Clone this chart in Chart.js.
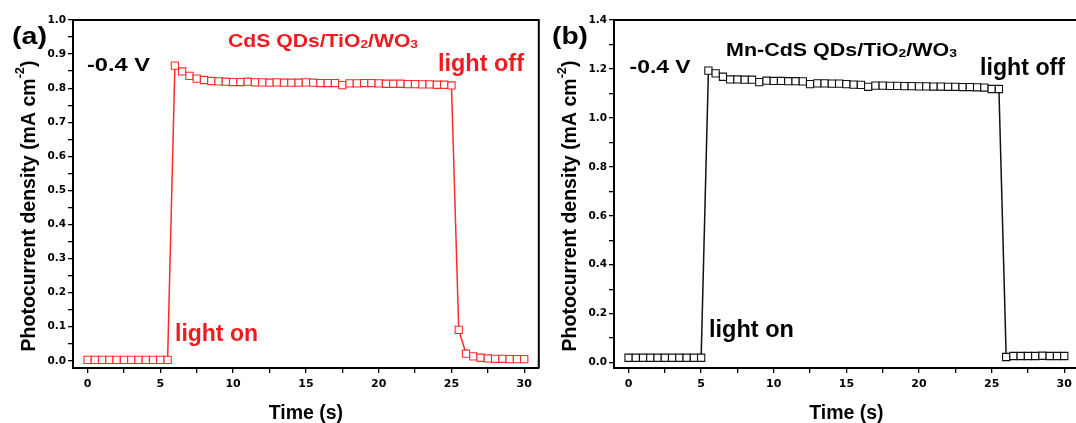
<!DOCTYPE html>
<html>
<head>
<meta charset="utf-8">
<script src="https://cdn.jsdelivr.net/npm/chart.js@4.4.1/dist/chart.umd.min.js"></script>
<style>
  html, body { margin: 0; padding: 0; background: #fff; overflow: hidden; width: 1076px; height: 423px; }
  canvas { position: absolute; top: 0; }
  #chartA { left: 0; }
  #chartB { left: 540px; }
</style>
</head>
<body>
<canvas id="chartA" width="545" height="423"></canvas>
<canvas id="chartB" width="545" height="423"></canvas>
<script>
// Sampling times (s), one point every 0.5 s
const timeS = [
  0, 0.5, 1, 1.5, 2, 2.5, 3, 3.5, 4, 4.5, 5, 5.5, 6, 6.5, 7, 7.5, 8, 8.5, 9, 9.5,
  10, 10.5, 11, 11.5, 12, 12.5, 13, 13.5, 14, 14.5, 15, 15.5, 16, 16.5, 17, 17.5, 18, 18.5, 19, 19.5,
  20, 20.5, 21, 21.5, 22, 22.5, 23, 23.5, 24, 24.5, 25, 25.5, 26, 26.5, 27, 27.5, 28, 28.5, 29, 29.5, 30,
];

// (a) CdS QDs/TiO2/WO3, mA cm-2
const currentA = [
  0.003, 0.003, 0.003, 0.003, 0.003, 0.003, 0.003, 0.003, 0.003, 0.003, 0.003, 0.003,
  0.866, 0.849, 0.836, 0.828, 0.824, 0.821, 0.820, 0.819, 0.818, 0.818,
  0.819, 0.817, 0.817, 0.816, 0.817, 0.816, 0.816, 0.816, 0.817, 0.816,
  0.815, 0.815, 0.815, 0.809, 0.814, 0.814, 0.815, 0.815, 0.814, 0.813,
  0.813, 0.813, 0.812, 0.812, 0.811, 0.811, 0.810, 0.810, 0.808,
  0.091,
  0.021, 0.013, 0.009, 0.007, 0.006, 0.006, 0.005, 0.005, 0.005,
];

// (b) Mn-CdS QDs/TiO2/WO3, mA cm-2
const currentB = [
  0.020, 0.020, 0.020, 0.020, 0.020, 0.020, 0.020, 0.020, 0.020, 0.020, 0.020,
  1.193, 1.182, 1.168, 1.157, 1.157, 1.156, 1.156, 1.146, 1.152, 1.151,
  1.151, 1.150, 1.150, 1.149, 1.138, 1.141, 1.141, 1.140, 1.140, 1.138,
  1.136, 1.135, 1.127, 1.132, 1.132, 1.131, 1.131, 1.130, 1.130, 1.129,
  1.129, 1.128, 1.128, 1.127, 1.127, 1.126, 1.126, 1.125, 1.124, 1.118,
  1.118,
  0.023, 0.027, 0.027, 0.027, 0.027, 0.028, 0.027, 0.027, 0.027,
];

// tick labels
const xTicks  = [0, 5, 10, 15, 20, 25, 30];
const yTicksA = [0, 0.1, 0.2, 0.3, 0.4, 0.5, 0.6, 0.7, 0.8, 0.9, 1.0];
const yTicksB = [0, 0.2, 0.4, 0.6, 0.8, 1.0, 1.2, 1.4];

const RED = '#f01a1f';
const RED_DATA = '#ff2a2a';
const BLACK = '#111111';
const TXT_FONT = '"Liberation Sans", Arial, sans-serif';
const TICK_FONT = '"DejaVu Sans", sans-serif';

// major ticks plus one minor tick between each pair
function withMinors(majors) {
  const out = [];
  majors.forEach((v, i) => {
    out.push(v);
    if (i < majors.length - 1) out.push(Math.round((v + majors[i + 1]) / 2 * 1000) / 1000);
  });
  return out;
}
const isMajor = (majors, v) => majors.some(m => Math.abs(m - v) < 1e-9);

// draw a run of text parts ([text, 'sub'|'sup'|'']) at baseline, optionally stretched to width w
function runWidth(ctx, n) {
  let w = 0;
  n.parts.forEach(([t, kind]) => {
    ctx.font = `bold ${kind ? n.size * 0.65 : n.size}px ${TXT_FONT}`;
    w += ctx.measureText(t).width;
  });
  return w;
}
function drawRun(ctx, n, x0, y0) {
  let x = x0;
  n.parts.forEach(([t, kind]) => {
    ctx.font = `bold ${kind ? n.size * 0.65 : n.size}px ${TXT_FONT}`;
    const dy = kind === 'sub' ? n.size * 0.06 : kind === 'sup' ? -n.size * 0.52 : 0;
    ctx.fillText(t, x, y0 + dy);
    x += ctx.measureText(t).width;
  });
}

function decorPlugin(notes, yTitle) {
  return {
    id: 'decor',
    afterDraw(chart) {
      const { ctx, chartArea: a } = chart;
      ctx.save();
      // box frame (top + right)
      ctx.strokeStyle = '#000';
      ctx.lineWidth = 2;
      ctx.beginPath();
      ctx.moveTo(a.left, a.top);
      ctx.lineTo(a.right, a.top);
      ctx.lineTo(a.right, a.bottom);
      ctx.stroke();

      ctx.textAlign = 'left';
      ctx.textBaseline = 'alphabetic';

      // rotated y axis title with superscript
      ctx.fillStyle = '#000';
      const tw = runWidth(ctx, yTitle);
      ctx.save();
      ctx.translate(yTitle.x, yTitle.y);
      ctx.rotate(-Math.PI / 2);
      drawRun(ctx, yTitle, -tw / 2, yTitle.size * 0.358);
      ctx.restore();

      // labels
      notes.forEach(n => {
        const nat = runWidth(ctx, n);
        const sx = n.w ? n.w / nat : 1;
        ctx.save();
        ctx.fillStyle = n.color;
        ctx.translate(n.x, n.y);
        ctx.scale(sx, 1);
        drawRun(ctx, n, 0, 0);
        ctx.restore();
      });
      ctx.restore();
    },
  };
}

function makePanel(canvasId, values, color, yMajors, yMin, yMax, yWidth, padRight, notes, yTitle) {
  const ctx = document.getElementById(canvasId).getContext('2d');
  const yAll = withMinors(yMajors);
  const xAll = withMinors(xTicks);
  return new Chart(ctx, {
    type: 'scatter',
    data: {
      datasets: [{
        data: timeS.map((t, i) => ({ x: t, y: values[i] })),
        showLine: true,
        borderColor: color,
        borderWidth: 1.5,
        pointStyle: 'rect',
        pointRadius: 5.1,
        pointBorderWidth: 1.1,
        pointBorderColor: color,
        pointBackgroundColor: '#fff',
        tension: 0,
      }],
    },
    options: {
      responsive: false,
      animation: false,
      events: [],
      layout: { padding: { left: 0, right: padRight, top: 20, bottom: 0 } },
      plugins: { legend: { display: false }, tooltip: { enabled: false } },
      scales: {
        x: {
          type: 'linear',
          min: -1,
          max: 31,
          afterBuildTicks: s => { s.ticks = xAll.map(v => ({ value: v })); },
          afterFit: s => { s.height = 55; },
          ticks: {
            autoSkip: false,
            maxRotation: 0,
            padding: 5,
            color: '#000',
            font: { family: TICK_FONT, weight: 'bold', size: 11 },
            callback: v => isMajor(xTicks, v) ? String(v) : '',
          },
          grid: { drawOnChartArea: false, tickLength: 5, color: '#000', lineWidth: 1.3 },
          border: { color: '#000', width: 2 },
          title: {
            display: true,
            text: 'Time (s)',
            color: '#000',
            font: { family: TXT_FONT, weight: 'bold', size: 19.5, lineHeight: 1 },
            padding: { top: 0, bottom: 0 },
          },
        },
        y: {
          min: yMin,
          max: yMax,
          afterBuildTicks: s => { s.ticks = yAll.map(v => ({ value: v })); },
          afterFit: s => { s.width = yWidth; },
          ticks: {
            autoSkip: false,
            padding: 2,
            color: '#000',
            font: { family: TICK_FONT, weight: 'bold', size: 10.5 },
            callback: v => isMajor(yMajors, v) ? v.toFixed(1) : '',
          },
          grid: { drawOnChartArea: false, tickLength: 5, color: '#000', lineWidth: 1.3 },
          border: { color: '#000', width: 2 },
        },
      },
    },
    plugins: [decorPlugin(notes, yTitle)],
  });
}

const yTitleParts = [['Photocurrent density (mA cm', ''], ['-2', 'sup'], [')', '']];
const subParts = prefix => [[prefix + 'CdS QDs/TiO', ''], ['2', 'sub'], ['/WO', ''], ['3', 'sub']];

makePanel('chartA', currentA, RED_DATA, yTicksA, -0.021, 1.0, 73, 5, [
  { parts: [['(a)', '']], x: 12, y: 44, size: 24, w: 35, color: '#000' },
  { parts: [['-0.4 V', '']], x: 87, y: 70.5, size: 19, w: 63, color: '#000' },
  { parts: subParts(''), x: 228, y: 46.5, size: 17.5, w: 190, color: RED },
  { parts: [['light off', '']], x: 438, y: 70.5, size: 23, w: 86, color: RED },
  { parts: [['light on', '']], x: 175, y: 340.5, size: 23, w: 83, color: RED },
], { parts: yTitleParts, x: 27.6, y: 206, size: 19.5 });

makePanel('chartB', currentB, BLACK, yTicksB, -0.022, 1.4, 74, 4, [
  { parts: [['(b)', '']], x: 12, y: 44, size: 24, w: 36, color: '#000' },
  { parts: [['-0.4 V', '']], x: 89.6, y: 72.5, size: 19, w: 61, color: '#000' },
  { parts: subParts('Mn-'), x: 186, y: 56.4, size: 17.5, w: 231, color: '#000' },
  { parts: [['light off', '']], x: 440, y: 75, size: 23, w: 85, color: '#000' },
  { parts: [['light on', '']], x: 169, y: 336.5, size: 23, w: 85, color: '#000' },
], { parts: yTitleParts, x: 29, y: 206, size: 19.5 });
</script>
</body>
</html>
